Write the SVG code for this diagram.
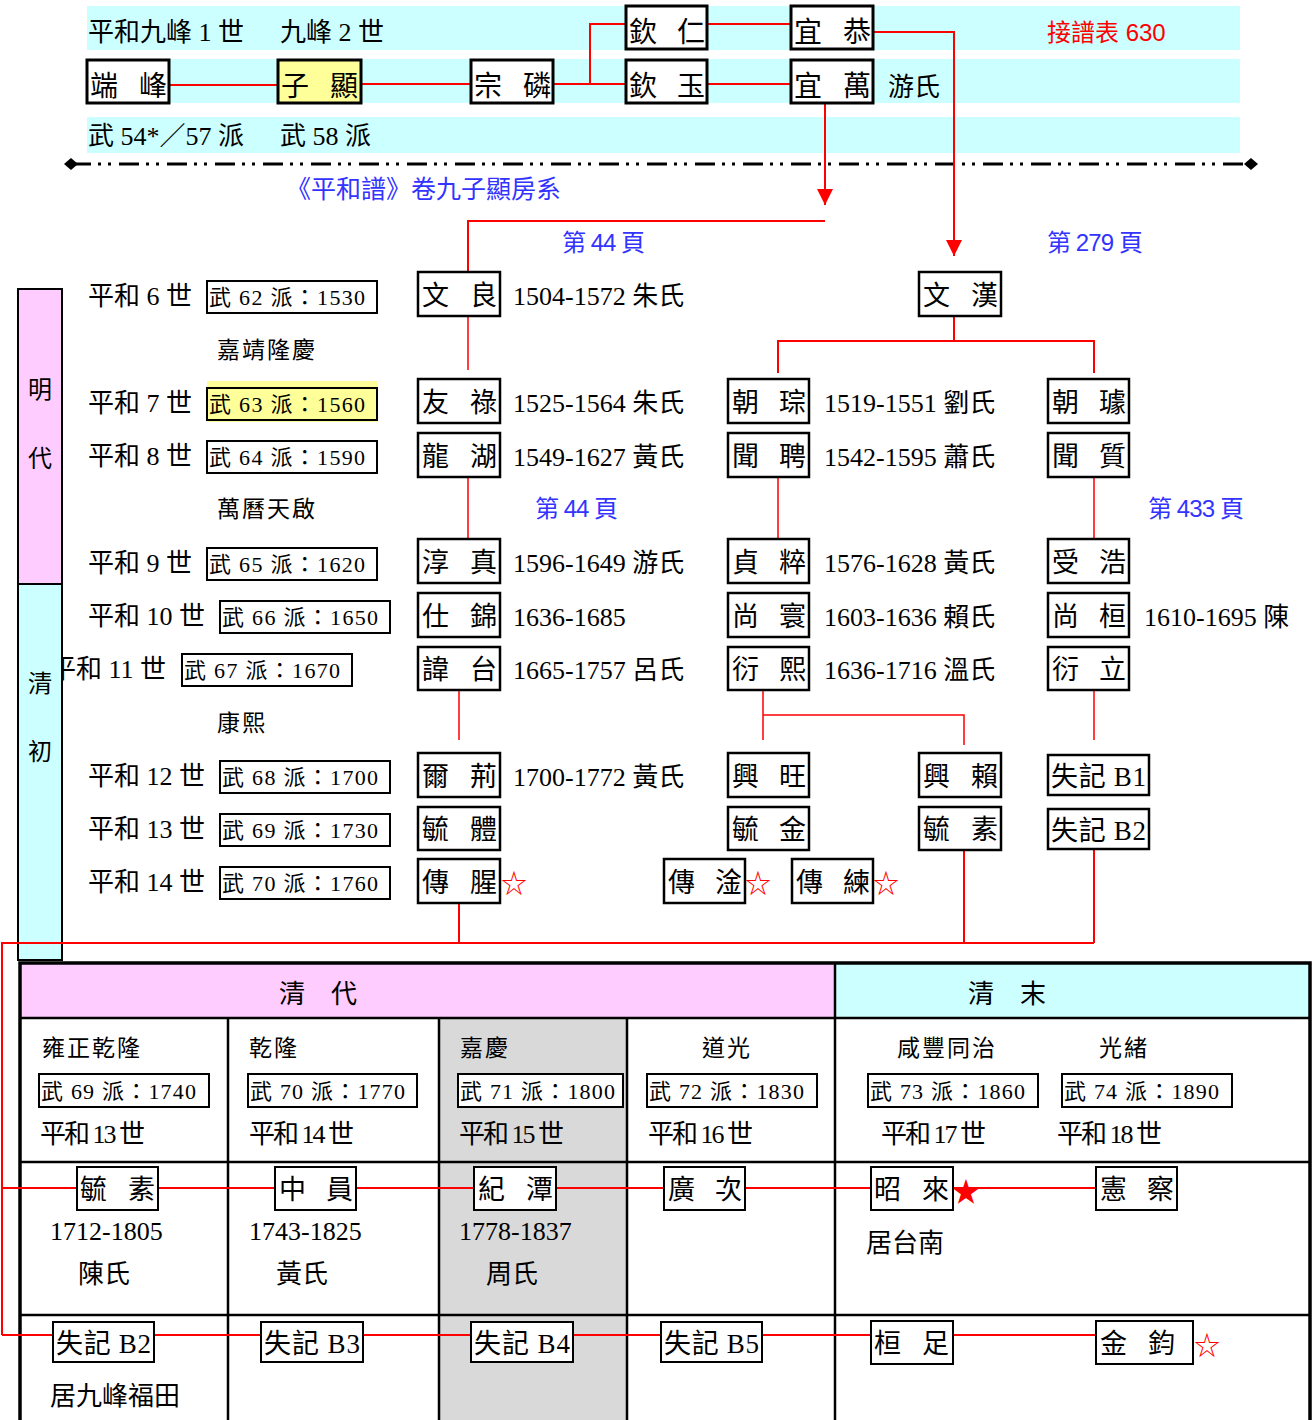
<svg xmlns="http://www.w3.org/2000/svg" width="1314" height="1420" viewBox="0 0 1314 1420">
<style>
text{font-family:"Liberation Serif","Noto Sans CJK TC",serif;fill:#000}
.s{font-family:"Liberation Sans","Noto Sans CJK TC",sans-serif}
.blue{fill:#3333FF;font-size:24px}
.lbl{font-size:26px}
.nm{font-size:27px}
.top{font-size:28px}
.per{font-size:22px}
.era{font-size:23px;letter-spacing:2px}
.box{fill:#fff;stroke:#000;stroke-width:2.5}
.tbox{fill:#fff;stroke:#000;stroke-width:3}
.pbox{fill:#fff;stroke:#000;stroke-width:2}
.r{stroke:#f00;fill:none;stroke-width:2}
.rt{stroke:#f00;fill:none;stroke-width:1.5}
.grid{stroke:#000;stroke-width:2.5;fill:none}
.star{font-family:"Noto Sans CJK TC","DejaVu Sans",sans-serif;fill:#f00;font-size:26px;text-anchor:middle}
</style>
<defs>
<marker id="arr" markerUnits="userSpaceOnUse" markerWidth="18" markerHeight="18" viewBox="0 0 18 18" refX="16" refY="9" orient="auto">
<path d="M0,1 L16,9 L0,17 Z" fill="#f00"/>
</marker>
</defs>
<rect width="1314" height="1420" fill="#fff"/>

<g id="bands">
<rect x="87" y="6" width="1153" height="44" fill="#CCFFFF"/>
<rect x="87" y="59" width="1153" height="44" fill="#CCFFFF"/>
<rect x="87" y="117" width="1153" height="36" fill="#CCFFFF"/>
<text x="88" y="41" class="lbl">平和九峰 1 世</text>
<text x="280" y="41" class="lbl">九峰 2 世</text>
<text x="88" y="145" class="lbl">武 54*／57 派</text>
<text x="280" y="145" class="lbl">武 58 派</text>
<text x="1047" y="41" class="s" style="fill:#f00;font-size:24px">接譜表 630</text>
<text x="888" y="96" class="lbl">游氏</text>
</g>

<g id="divider">
<line x1="71" y1="164" x2="1251" y2="164" stroke="#000" stroke-width="3" stroke-dasharray="20 7 3 7 3 8"/>
<path d="M64,164 L71,158 L78,164 L71,170 Z" fill="#000"/>
<path d="M1244,164 L1251,158 L1258,164 L1251,170 Z" fill="#000"/>
<text x="286" y="198" class="s blue" style="font-size:25px">《平和譜》卷九子顯房系</text>
<text x="562" y="251" class="s blue" textLength="83">第 44 頁</text>
<text x="1047" y="251" class="s blue" textLength="96">第 279 頁</text>
<text x="535" y="517" class="s blue" textLength="83">第 44 頁</text>
<text x="1148" y="517" class="s blue" textLength="96">第 433 頁</text>
</g>

<g id="row-labels">
<text x="88" y="305" class="lbl">平和 6 世</text>
<text x="217" y="358" class="era">嘉靖隆慶</text>
<text x="88" y="412" class="lbl">平和 7 世</text>
<text x="88" y="465" class="lbl">平和 8 世</text>
<text x="217" y="517" class="era">萬曆天啟</text>
<text x="88" y="572" class="lbl">平和 9 世</text>
<text x="88" y="625" class="lbl">平和 10 世</text>
<text x="50" y="678" class="lbl">平和 11 世</text>
<text x="217" y="731" class="era">康熙</text>
<text x="88" y="785" class="lbl">平和 12 世</text>
<text x="88" y="838" class="lbl">平和 13 世</text>
<text x="88" y="891" class="lbl">平和 14 世</text>
</g>

<g id="periods">
<rect x="18" y="289" width="44" height="295" fill="#FFCCFF" stroke="#000" stroke-width="2"/>
<rect x="18" y="584" width="44" height="376" fill="#CCFFFF" stroke="#000" stroke-width="2"/>
<text x="40" y="398" class="s" text-anchor="middle" style="font-size:24px">明</text>
<text x="40" y="467" class="s" text-anchor="middle" style="font-size:24px">代</text>
<text x="40" y="692" class="s" text-anchor="middle" style="font-size:24px">清</text>
<text x="40" y="760" class="s" text-anchor="middle" style="font-size:24px">初</text>
</g>

<g id="pai-boxes">
<rect x="207" y="281" width="170" height="32" class="pbox"/><text x="209" y="305" class="per" textLength="156">武 62 派：1530</text>
<rect x="207" y="381" width="170" height="41" fill="#FFFF99"/>
<rect x="207" y="388" width="170" height="32" fill="none" stroke="#000" stroke-width="2"/><text x="209" y="412" class="per" textLength="156">武 63 派：1560</text>
<rect x="207" y="441" width="170" height="32" class="pbox"/><text x="209" y="465" class="per" textLength="156">武 64 派：1590</text>
<rect x="207" y="548" width="170" height="32" class="pbox"/><text x="209" y="572" class="per" textLength="156">武 65 派：1620</text>
<rect x="220" y="601" width="170" height="32" class="pbox"/><text x="222" y="625" class="per" textLength="156">武 66 派：1650</text>
<rect x="182" y="654" width="170" height="32" class="pbox"/><text x="184" y="678" class="per" textLength="156">武 67 派：1670</text>
<rect x="220" y="761" width="170" height="32" class="pbox"/><text x="222" y="785" class="per" textLength="156">武 68 派：1700</text>
<rect x="220" y="814" width="170" height="32" class="pbox"/><text x="222" y="838" class="per" textLength="156">武 69 派：1730</text>
<rect x="220" y="867" width="170" height="32" class="pbox"/><text x="222" y="891" class="per" textLength="156">武 70 派：1760</text>
</g>

<g id="table-bg">
<rect x="20" y="963" width="815" height="55" fill="#FFCCFF"/>
<rect x="835" y="963" width="475" height="55" fill="#CCFFFF"/>
<rect x="439" y="1018" width="188" height="402" fill="#D9D9D9"/>
<line x1="20" y1="1018" x2="1310" y2="1018" class="grid"/>
<line x1="20" y1="1162" x2="1310" y2="1162" class="grid"/>
<line x1="20" y1="1315" x2="1310" y2="1315" class="grid"/>
<line x1="228" y1="1018" x2="228" y2="1420" class="grid"/>
<line x1="439" y1="1018" x2="439" y2="1420" class="grid"/>
<line x1="627" y1="1018" x2="627" y2="1420" class="grid"/>
<line x1="835" y1="963" x2="835" y2="1420" class="grid"/>
<path d="M20,1422 V963 H1310 V1422" fill="none" stroke="#000" stroke-width="3.5"/>
<text x="318" y="1003" text-anchor="middle" class="s" style="font-size:26px">清　代</text>
<text x="1007" y="1003" text-anchor="middle" class="s" style="font-size:26px">清　末</text>
<text x="42" y="1056" class="era">雍正乾隆</text>
<text x="249" y="1056" class="era">乾隆</text>
<text x="460" y="1056" class="era">嘉慶</text>
<text x="702" y="1056" class="era">道光</text>
<text x="897" y="1056" class="era">咸豐同治</text>
<text x="1099" y="1056" class="era">光緒</text>
<rect x="39" y="1074" width="170" height="33" class="pbox"/><text x="41" y="1099" class="per" textLength="155">武 69 派：1740</text>
<rect x="248" y="1074" width="169" height="33" class="pbox"/><text x="250" y="1099" class="per" textLength="155">武 70 派：1770</text>
<rect x="458" y="1074" width="165" height="33" class="pbox"/><text x="460" y="1099" class="per" textLength="155">武 71 派：1800</text>
<rect x="647" y="1074" width="170" height="33" class="pbox"/><text x="649" y="1099" class="per" textLength="155">武 72 派：1830</text>
<rect x="868" y="1074" width="170" height="33" class="pbox"/><text x="870" y="1099" class="per" textLength="155">武 73 派：1860</text>
<rect x="1062" y="1074" width="170" height="33" class="pbox"/><text x="1064" y="1099" class="per" textLength="155">武 74 派：1890</text>
<text x="40" y="1143" class="lbl" textLength="105">平和 13 世</text>
<text x="249" y="1143" class="lbl" textLength="105">平和 14 世</text>
<text x="459" y="1143" class="lbl" textLength="105">平和 15 世</text>
<text x="648" y="1143" class="lbl" textLength="105">平和 16 世</text>
<text x="881" y="1143" class="lbl" textLength="105">平和 17 世</text>
<text x="1057" y="1143" class="lbl" textLength="105">平和 18 世</text>
<text x="50" y="1240" class="lbl">1712-1805</text>
<text x="78" y="1283" class="lbl">陳氏</text>
<text x="249" y="1240" class="lbl">1743-1825</text>
<text x="276" y="1283" class="lbl">黃氏</text>
<text x="459" y="1240" class="lbl">1778-1837</text>
<text x="486" y="1283" class="lbl">周氏</text>
<text x="866" y="1252" class="lbl">居台南</text>
<text x="50" y="1405" class="lbl">居九峰福田</text>
</g>

<g id="connectors">
<path class="r" d="M169,85 H278 M361,84 H471 M553,84 H626 M590,84 V24 H626 M707,24 H791 M707,84 H791" stroke-width="2.5"/>
<path class="r" d="M873,32 H954 V256" stroke-width="2.5" marker-end="url(#arr)"/>
<path class="r" d="M825,103 V205" stroke-width="2.5" marker-end="url(#arr)"/>
<path class="r" d="M825,221 H468 V272" stroke-width="2.5"/>
<path class="rt" d="M468,316 V370 M468,477 V539 M778,477 V539 M1094,477 V539"/>
<path class="r" d="M954,316 V341 M778,373 V341 H1094 V373" stroke-width="2"/>
<path class="r" d="M778,341 H1094" stroke-width="3"/>
<path class="rt" d="M459,690 V740 M763,690 V740 M763,715 H964 V745 M1094,690 V740"/>
<path class="r" d="M459,903 V943 M964,845 V943 M1094,845 V943"/>
<path class="r" d="M1094,943 H2 V1335" stroke-width="2.5"/>
<path class="r" d="M2,1188 H1096 M2,1335 H1096"/>
</g>

<g id="top-nodes">
<g id="n-duanfeng"><rect x="87" y="60" width="82" height="43" class="tbox"/><text x="90 139" y="96" class="top">端峰</text></g>
<g id="n-zixian"><rect x="278" y="60" width="83" height="43" class="tbox" style="fill:#FFFF99"/><text x="281 330" y="96" class="top">子顯</text></g>
<g id="n-zonglin"><rect x="471" y="60" width="82" height="43" class="tbox"/><text x="474 523" y="96" class="top">宗磷</text></g>
<g id="n-qinren"><rect x="626" y="6" width="81" height="43" class="tbox"/><text x="629 677" y="42" class="top">欽仁</text></g>
<g id="n-qinyu"><rect x="626" y="60" width="81" height="43" class="tbox"/><text x="629 677" y="96" class="top">欽玉</text></g>
<g id="n-yigong"><rect x="791" y="6" width="82" height="43" class="tbox"/><text x="794 843" y="42" class="top">宜恭</text></g>
<g id="n-yiwan"><rect x="791" y="60" width="82" height="43" class="tbox"/><text x="794 843" y="96" class="top">宜萬</text></g>
</g>

<g id="mid-nodes">
<g id="n-wenliang"><rect x="418" y="272" width="82" height="44" class="box"/><text x="422 470" y="305" class="nm">文良</text><text x="513" y="305" class="lbl">1504-1572 朱氏</text></g>
<g id="n-wenhan"><rect x="919" y="272" width="82" height="44" class="box"/><text x="923 971" y="305" class="nm">文漢</text></g>
<g id="n-youlu"><rect x="418" y="379" width="82" height="44" class="box"/><text x="422 470" y="412" class="nm">友祿</text><text x="513" y="412" class="lbl">1525-1564 朱氏</text></g>
<g id="n-chaocong"><rect x="728" y="379" width="81" height="44" class="box"/><text x="732 779" y="412" class="nm">朝琮</text><text x="824" y="412" class="lbl">1519-1551 劉氏</text></g>
<g id="n-chaoqu"><rect x="1048" y="379" width="81" height="44" class="box"/><text x="1052 1099" y="412" class="nm">朝璩</text></g>
<g id="n-longhu"><rect x="418" y="433" width="82" height="44" class="box"/><text x="422 470" y="466" class="nm">龍湖</text><text x="513" y="466" class="lbl">1549-1627 黃氏</text></g>
<g id="n-wenpin"><rect x="728" y="433" width="81" height="44" class="box"/><text x="732 779" y="466" class="nm">聞聘</text><text x="824" y="466" class="lbl">1542-1595 蕭氏</text></g>
<g id="n-wenzhi"><rect x="1048" y="433" width="81" height="44" class="box"/><text x="1052 1099" y="466" class="nm">聞質</text></g>
<g id="n-chunzhen"><rect x="418" y="539" width="82" height="44" class="box"/><text x="422 470" y="572" class="nm">淳真</text><text x="513" y="572" class="lbl">1596-1649 游氏</text></g>
<g id="n-zhencui"><rect x="728" y="539" width="81" height="44" class="box"/><text x="732 779" y="572" class="nm">貞粹</text><text x="824" y="572" class="lbl">1576-1628 黃氏</text></g>
<g id="n-shouhao"><rect x="1048" y="539" width="81" height="44" class="box"/><text x="1052 1099" y="572" class="nm">受浩</text></g>
<g id="n-shijin"><rect x="418" y="593" width="82" height="44" class="box"/><text x="422 470" y="626" class="nm">仕錦</text><text x="513" y="626" class="lbl">1636-1685</text></g>
<g id="n-shanghuan"><rect x="728" y="593" width="81" height="44" class="box"/><text x="732 779" y="626" class="nm">尚寰</text><text x="824" y="626" class="lbl">1603-1636 賴氏</text></g>
<g id="n-shanghuan2"><rect x="1048" y="593" width="81" height="44" class="box"/><text x="1052 1099" y="626" class="nm">尚桓</text><text x="1144" y="626" class="lbl">1610-1695 陳</text></g>
<g id="n-weitai"><rect x="418" y="647" width="82" height="43" class="box"/><text x="422 470" y="679" class="nm">諱台</text><text x="513" y="679" class="lbl">1665-1757 呂氏</text></g>
<g id="n-yanxi"><rect x="728" y="647" width="81" height="43" class="box"/><text x="732 779" y="679" class="nm">衍熙</text><text x="824" y="679" class="lbl">1636-1716 溫氏</text></g>
<g id="n-yanli"><rect x="1048" y="647" width="81" height="43" class="box"/><text x="1052 1099" y="679" class="nm">衍立</text></g>
<g id="n-erjing"><rect x="418" y="753" width="82" height="44" class="box"/><text x="422 470" y="786" class="nm">爾荊</text><text x="513" y="786" class="lbl">1700-1772 黃氏</text></g>
<g id="n-xingwang"><rect x="728" y="753" width="81" height="44" class="box"/><text x="732 779" y="786" class="nm">興旺</text></g>
<g id="n-xinglai"><rect x="919" y="753" width="82" height="44" class="box"/><text x="923 971" y="786" class="nm">興賴</text></g>
<g id="n-b1"><rect x="1048" y="755" width="101" height="40" class="box"/><text x="1051" y="786" class="nm" textLength="95">失記 B1</text></g>
<g id="n-yuti"><rect x="418" y="807" width="82" height="43" class="box"/><text x="422 470" y="839" class="nm">毓體</text></g>
<g id="n-yujin"><rect x="728" y="807" width="81" height="43" class="box"/><text x="732 779" y="839" class="nm">毓金</text></g>
<g id="n-yusu"><rect x="919" y="807" width="82" height="43" class="box"/><text x="923 971" y="839" class="nm">毓素</text></g>
<g id="n-b2a"><rect x="1048" y="809" width="101" height="40" class="box"/><text x="1051" y="840" class="nm" textLength="95">失記 B2</text></g>
<g id="n-chuanxing"><rect x="418" y="859" width="82" height="44" class="box"/><text x="422 470" y="892" class="nm">傳腥</text><text x="514" y="893" class="star">☆</text></g>
<g id="n-chuangan"><rect x="664" y="859" width="81" height="44" class="box"/><text x="668 715" y="892" class="nm">傳淦</text><text x="758" y="893" class="star">☆</text></g>
<g id="n-chuanlian"><rect x="792" y="859" width="81" height="44" class="box"/><text x="796 843" y="892" class="nm">傳練</text><text x="886" y="893" class="star">☆</text></g>
</g>

<g id="table-nodes">
<g id="t-yusu"><rect x="77" y="1167" width="81" height="43" class="pbox"/><text x="80 128" y="1199" class="nm">毓素</text></g>
<g id="t-zhongyuan"><rect x="275" y="1167" width="81" height="43" class="pbox"/><text x="279 326" y="1199" class="nm">中員</text></g>
<g id="t-jitan"><rect x="474" y="1167" width="82" height="43" class="pbox"/><text x="478 526" y="1199" class="nm">紀潭</text></g>
<g id="t-guangci"><rect x="664" y="1167" width="81" height="43" class="pbox"/><text x="668 715" y="1199" class="nm">廣次</text></g>
<g id="t-zhaolai"><rect x="871" y="1167" width="82" height="43" class="pbox"/><text x="874 922" y="1199" class="nm">昭來</text><text x="966" y="1202" class="star" style="font-size:28px">★</text></g>
<g id="t-xiancha"><rect x="1096" y="1167" width="81" height="43" class="pbox"/><text x="1100 1147" y="1199" class="nm">憲察</text></g>
<g id="t-b2"><rect x="53" y="1322" width="101" height="40" class="pbox"/><text x="56" y="1353" class="nm" textLength="95">失記 B2</text></g>
<g id="t-b3"><rect x="261" y="1322" width="102" height="40" class="pbox"/><text x="264" y="1353" class="nm" textLength="96">失記 B3</text></g>
<g id="t-b4"><rect x="471" y="1322" width="102" height="40" class="pbox"/><text x="474" y="1353" class="nm" textLength="96">失記 B4</text></g>
<g id="t-b5"><rect x="661" y="1322" width="101" height="40" class="pbox"/><text x="664" y="1353" class="nm" textLength="95">失記 B5</text></g>
<g id="t-hengzu"><rect x="871" y="1321" width="82" height="43" class="pbox"/><text x="874 922" y="1353" class="nm">桓足</text></g>
<g id="t-jinjun"><rect x="1096" y="1321" width="97" height="43" class="pbox"/><text x="1100 1148" y="1353" class="nm">金鈞</text><text x="1207" y="1355" class="star">☆</text></g>
</g>
</svg>
